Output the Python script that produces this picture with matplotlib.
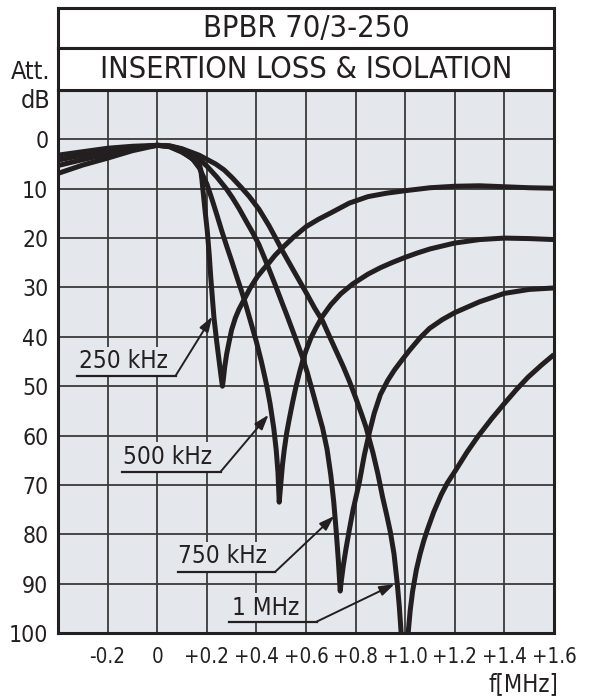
import matplotlib
matplotlib.use("Agg")
import matplotlib.pyplot as plt

# frequency offset from centre [MHz] / attenuation [dB]
f_250 = [-0.4, -0.3, -0.2, -0.1, 0.0, 0.05, 0.1, 0.13, 0.155, 0.168, 0.175, 0.18, 0.185, 0.192,
         0.202, 0.21, 0.216, 0.229, 0.24, 0.249, 0.257, 0.263, 0.267, 0.272, 0.28, 0.29, 0.3,
         0.315, 0.33, 0.35, 0.375, 0.404, 0.43, 0.451, 0.475, 0.5, 0.55, 0.6, 0.65, 0.7, 0.775,
         0.85, 0.925, 1.0, 1.1, 1.2, 1.3, 1.4, 1.5, 1.6]
att_250 = [6.9, 5.2, 3.8, 2.3, 1.2, 1.5, 2.6, 3.5, 4.5, 4.9, 6, 8, 10.5, 14,
           18.6, 23.5, 28, 36.2, 41, 44.6, 47.8, 50, 48.5, 46.2, 43.5, 41, 38.6,
           36.2, 34.4, 32.5, 30.1, 27.8, 26.2, 25, 23.5, 22.2, 19.8, 17.7, 16.2, 14.9, 12.9,
           11.6, 10.9, 10.4, 9.8, 9.5, 9.4, 9.6, 9.8, 9.9]

f_500 = [-0.4, -0.3, -0.2, -0.1, 0.0, 0.05, 0.1, 0.143, 0.17, 0.2, 0.22, 0.24, 0.26, 0.28, 0.3,
         0.32, 0.343, 0.36, 0.38, 0.4, 0.42, 0.44, 0.455, 0.47, 0.48, 0.487, 0.492, 0.498,
         0.505, 0.512, 0.522, 0.532, 0.545, 0.56, 0.575, 0.587, 0.6, 0.62, 0.64, 0.667, 0.7,
         0.74, 0.788, 0.85, 0.9, 0.95, 1.0, 1.05, 1.1, 1.2, 1.3, 1.4, 1.5, 1.6]
att_500 = [5.3, 4.1, 3.0, 1.9, 1.2, 1.45, 2.5, 4.0, 5.8, 9, 12, 15.2, 18.5, 21.6, 24.6,
           27.7, 31.2, 34, 37.5, 41, 45, 49.5, 53.5, 58.5, 63, 67.5, 73.5, 70,
           66, 63, 59.5, 56.8, 53.5, 50, 47, 44.8, 42.8, 40.2, 38.2, 35.8, 33.5,
           31.3, 29.3, 27.3, 26, 24.9, 23.9, 23, 22.2, 21, 20.3, 20, 20.1, 20.3]

f_750 = [-0.4, -0.3, -0.2, -0.1, 0.0, 0.05, 0.1, 0.15, 0.2, 0.24, 0.28, 0.303, 0.33, 0.36,
         0.385, 0.41, 0.43, 0.451, 0.48, 0.505, 0.525, 0.545, 0.565, 0.587, 0.605, 0.626,
         0.645, 0.667, 0.685, 0.7, 0.712, 0.722, 0.73, 0.738, 0.741, 0.75, 0.761, 0.775, 0.79,
         0.815, 0.835, 0.855, 0.875, 0.9, 0.93, 0.957, 0.99, 1.018, 1.06, 1.098, 1.15, 1.2,
         1.3, 1.4, 1.5, 1.6]
att_750 = [4.2, 3.2, 2.4, 1.7, 1.2, 1.35, 2.0, 3.2, 5.4, 7.6, 10.1, 11.8, 14, 16.7,
           18.9, 21.3, 23.7, 26.3, 30, 33.3, 35.9, 38.6, 41.3, 44.3, 47.2, 51,
           54.5, 58.5, 62.8, 68, 73.5, 79.5, 85, 91.5, 90, 86.5, 83, 79, 75,
           69.5, 64, 59.5, 55.5, 51.7, 48.8, 46.7, 44.5, 42.7, 40.2, 38.3, 36.5, 35.1,
           32.9, 31.2, 30.4, 30.1]

f_1000 = [-0.4, -0.3, -0.2, -0.1, 0.0, 0.05, 0.1, 0.169, 0.236, 0.27, 0.303, 0.34, 0.37, 0.411,
          0.451, 0.48, 0.505, 0.55, 0.6, 0.635, 0.667, 0.7, 0.72, 0.75, 0.775, 0.8, 0.825,
          0.842, 0.87, 0.89, 0.909, 0.925, 0.94, 0.955, 0.968, 0.976, 0.983, 0.997,
          1.003, 1.012, 1.02, 1.03, 1.045, 1.06, 1.075, 1.09, 1.115, 1.145, 1.17, 1.2, 1.25,
          1.293, 1.35, 1.4, 1.45, 1.495, 1.55, 1.6]
att_1000 = [3.2, 2.5, 1.8, 1.4, 1.2, 1.3, 1.9, 3.2, 5.0, 6.2, 7.8, 9.8, 11.5, 14.2,
            17.5, 20.2, 22.6, 26.6, 31, 34.2, 36.8, 40.5, 42.7, 46, 49, 52.3, 55.8,
            58.3, 63.5, 67.8, 72.5, 76, 79.5, 84, 90, 94.5, 99.5, 115,
            115, 100, 95.5, 91.5, 87.2, 84, 81.3, 79, 75.5, 72, 69.6, 67.3, 63.3,
            60.2, 56.5, 53.5, 50.6, 48.2, 45.7, 43.6]

x_ticks = [-0.4, -0.2, 0.0, 0.2, 0.4, 0.6, 0.8, 1.0, 1.2, 1.4, 1.6]
x_labels = ["", "-0.2", "0", "+0.2", "+0.4", "+0.6", "+0.8", "+1.0", "+1.2", "+1.4", "+1.6"]
y_ticks = [-10, 0, 10, 20, 30, 40, 50, 60, 70, 80, 90, 100]
y_labels = [""] + [str(v) for v in y_ticks[1:]]

# label, text anchor (f, dB), underline (f0, f1, dB), arrow tip (f, dB)
labels = [
    ("250 kHz", (-0.316, 45.0), (-0.323, 0.074, 47.9), (0.222, 35.9)),
    ("500 kHz", (-0.137, 64.3), (-0.141, 0.256, 67.3), (0.449, 55.8)),
    ("750 kHz", (0.082, 84.5), (0.085, 0.476, 87.6), (0.714, 76.3)),
    ("1 MHz", (0.300, 94.9), (0.288, 0.643, 97.7), (0.957, 90.1)),
]

ink = "#231f20"
bg = "#e4e8ec"
plt.rcParams['font.family'] = ['DejaVu Sans']
plt.rcParams['font.stretch'] = 'condensed'

fig = plt.figure(figsize=(6, 7), dpi=100)
ax = fig.add_axes([58 / 600, 1 - 633 / 700, 496 / 600, 543 / 700])
ax.set_facecolor(bg)

for f, a in [(f_250, att_250), (f_500, att_500), (f_750, att_750), (f_1000, att_1000)]:
    ax.plot(f, a, color=ink, lw=3.6, solid_joinstyle='round', solid_capstyle='butt', zorder=4)

for text, (tx, ty), (u0, u1, uy), (hx, hy) in labels:
    ax.text(tx, ty, text, fontsize=17.5, color=ink, va='center', ha='left', zorder=3,
            bbox=dict(facecolor=bg, edgecolor='none', pad=2))
    ax.plot([u0, u1], [uy, uy], color=ink, lw=1.6, zorder=3)
    ax.annotate("", xy=(hx, hy), xytext=(u1, uy), zorder=3,
                arrowprops=dict(arrowstyle='-|>,head_length=0.9,head_width=0.3',
                                color=ink, lw=1.4, shrinkA=0, shrinkB=0))

ax.set_xlim(-0.4, 1.6)
ax.set_ylim(100, -10)
ax.set_xticks(x_ticks)
ax.set_xticklabels(x_labels)
ax.set_yticks(y_ticks)
ax.set_yticklabels(y_labels)
ax.grid(True, color='#3a3a3a', lw=1.3, zorder=1)
ax.set_axisbelow(True)
ax.tick_params(axis='both', length=0, labelsize=16.5, colors=ink)
ax.tick_params(axis='x', pad=10, labelsize=14.8)
ax.tick_params(axis='y', pad=7)
for s in ax.spines.values():
    s.set_linewidth(2.2)
    s.set_color(ink)
    s.set_zorder(5)

# two header boxes above the plot
for (y0, y1, title) in [(48, 8, "BPBR 70/3-250"), (90, 48, "INSERTION LOSS & ISOLATION")]:
    hb = fig.add_axes([58 / 600, 1 - y0 / 700, 496 / 600, (y0 - y1) / 700])
    hb.set_xticks([])
    hb.set_yticks([])
    for s in hb.spines.values():
        s.set_linewidth(2.2)
        s.set_color(ink)
    hb.text(0.5, 0.48, title, fontsize=22, color=ink, ha='center', va='center',
            transform=hb.transAxes)

fig.text(50 / 600, 1 - 72 / 700, "Att.", fontsize=18, color=ink, ha='right', va='center')
fig.text(50 / 600, 1 - 101 / 700, "dB", fontsize=18, color=ink, ha='right', va='center')
fig.text(558 / 600, 1 - 684 / 700, "f[MHz]", fontsize=17, color=ink, ha='right', va='center')

fig.savefig("out.png", dpi=100)
